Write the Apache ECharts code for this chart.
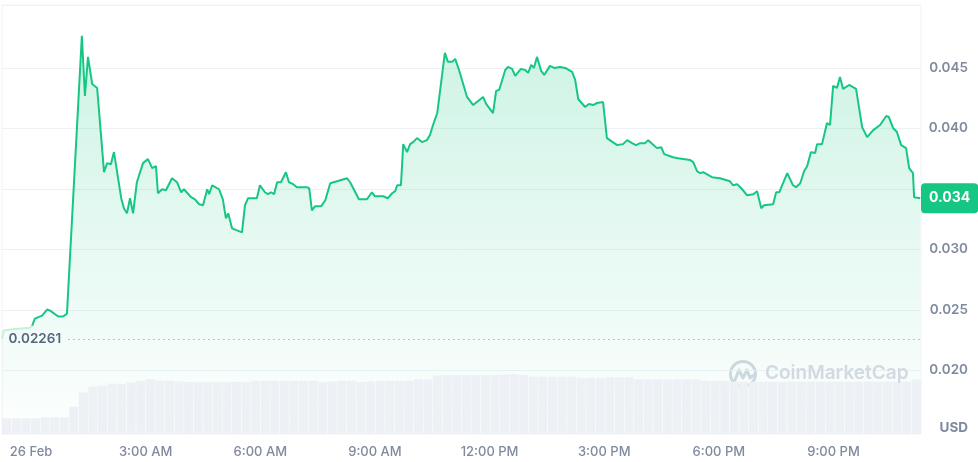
<!DOCTYPE html>
<html><head><meta charset="utf-8">
<script src="https://cdn.jsdelivr.net/npm/echarts@6/dist/echarts.min.js"></script>
<style>html,body{margin:0;padding:0;background:#fff}#c{width:978px;height:462px}</style>
</head><body><div id="c"></div>
<script>
// time in hours relative to 26 Feb 00:00
const timeHours = [-0.76,-0.72,-0.42,-0.03,0.03,0.10,0.29,0.42,0.50,0.71,0.84,0.94,0.99,1.33,1.41,1.49,1.60,1.73,1.91,1.99,
2.09,2.17,2.36,2.43,2.51,2.59,2.67,2.77,2.93,3.06,3.17,3.27,3.32,3.43,3.53,3.69,3.82,3.93,4.00,4.19,
4.29,4.40,4.50,4.61,4.66,4.74,4.92,5.02,5.10,5.16,5.26,5.39,5.52,5.60,5.68,5.91,5.99,6.12,6.20,6.28,
6.36,6.44,6.54,6.67,6.75,6.86,6.96,7.22,7.28,7.35,7.43,7.59,7.70,7.83,8.27,8.35,8.58,8.79,8.92,9.00,
9.21,9.34,9.45,9.53,9.58,9.68,9.74,9.84,9.92,10.00,10.10,10.23,10.36,10.44,10.52,10.63,10.83,10.91,11.02,11.10,
11.20,11.41,11.57,11.70,11.83,11.91,12.09,12.17,12.25,12.41,12.48,12.59,12.67,12.82,12.93,13.01,13.09,13.16,13.24,13.35,
13.43,13.58,13.69,13.84,13.98,14.16,14.24,14.32,14.50,14.60,14.71,14.81,14.97,15.02,15.07,15.34,15.49,15.60,15.73,15.83,
15.94,16.07,16.15,16.38,16.49,16.57,16.80,16.93,17.25,17.33,17.43,17.51,17.59,17.82,18.03,18.29,18.37,18.48,18.61,18.74,
18.90,19.00,19.11,19.18,19.42,19.50,19.58,19.68,19.79,19.84,19.94,20.02,20.13,20.23,20.31,20.41,20.52,20.57,20.70,20.83,
20.91,20.99,21.09,21.17,21.25,21.41,21.59,21.75,21.88,22.04,22.22,22.38,22.45,22.56,22.66,22.77,22.90,22.98,23.08,23.11,23.27];
const prices = [0.02261,0.02329,0.02341,0.02353,0.02370,0.02428,0.02453,0.02503,0.02494,0.02445,0.02445,0.02469,0.02478,0.04765,0.04268,0.04591,0.04367,0.04334,0.03638,0.03713,
0.03704,0.03804,0.03423,0.03340,0.03298,0.03423,0.03298,0.03555,0.03713,0.03746,0.03671,0.03688,0.03464,0.03497,0.03489,0.03588,0.03555,0.03472,0.03497,0.03431,
0.03414,0.03373,0.03365,0.03497,0.03456,0.03530,0.03497,0.03414,0.03257,0.03298,0.03174,0.03157,0.03141,0.03365,0.03423,0.03423,0.03530,0.03472,0.03456,0.03472,
0.03456,0.03555,0.03555,0.03638,0.03555,0.03539,0.03514,0.03514,0.03505,0.03323,0.03356,0.03356,0.03406,0.03547,0.03588,0.03555,0.03414,0.03414,0.03472,0.03439,
0.03439,0.03423,0.03464,0.03481,0.03530,0.03530,0.03870,0.03804,0.03870,0.03887,0.03920,0.03887,0.03903,0.03945,0.04028,0.04127,0.04624,0.04550,0.04550,0.04575,
0.04483,0.04260,0.04193,0.04226,0.04260,0.04202,0.04127,0.04309,0.04318,0.04483,0.04508,0.04492,0.04434,0.04492,0.04483,0.04459,0.04525,0.04500,0.04591,0.04475,
0.04442,0.04517,0.04500,0.04508,0.04500,0.04467,0.04401,0.04243,0.04177,0.04202,0.04193,0.04210,0.04218,0.04210,0.03920,0.03862,0.03870,0.03903,0.03878,0.03862,
0.03878,0.03878,0.03903,0.03837,0.03845,0.03787,0.03762,0.03754,0.03738,0.03721,0.03646,0.03630,0.03638,0.03597,0.03588,0.03563,0.03530,0.03539,0.03497,0.03447,
0.03456,0.03481,0.03340,0.03365,0.03373,0.03472,0.03472,0.03547,0.03630,0.03638,0.03530,0.03514,0.03547,0.03646,0.03688,0.03804,0.03796,0.03870,0.03870,0.04044,
0.04028,0.04351,0.04334,0.04425,0.04326,0.04359,0.04326,0.04011,0.03928,0.03986,0.04028,0.04102,0.04094,0.04003,0.03970,0.03862,0.03837,0.03671,0.03630,0.03431,0.03423];
const openPrice = 0.02261;
const paleEndIndex = 4; // first segment drawn in pale colour
// volume, 15-minute bars (relative units)
const volumes = [73,73,73,73,78,78,78,127,194,221,226,235,233,240,247,255,249,248,245,
242,242,242,242,242,242,242,248,248,248,248,248,248,248,
242,245,248,248,242,245,248,248,248,248,255,255,273,
274,274,274,274,274,275,277,279,275,267,267,267,267,267,
262,262,262,264,264,264,255,255,255,255,255,255,255,248,248,248,
244,244,244,244,244,244,244,244,244,244,244,244,244,244,244,244,244,244,244,255];
const xTickHours = [0,3,6,9,12,15,18,21];
const xTickLabels = ['26 Feb','3:00 AM','6:00 AM','9:00 AM','12:00 PM','3:00 PM','6:00 PM','9:00 PM'];
const yGridValues = [0.020,0.025,0.030,0.035,0.040,0.045,0.0502];
const yLabelValues = [0.020,0.025,0.030,0.040,0.045];

const X_MIN = -0.76, X_MAX = 23.29, Y_MIN = 0.01474, Y_MAX = 0.0502;
const GREEN = '#16c784';
const pts = timeHours.map((h, i) => [h, prices[i]]);
const last = prices[prices.length - 1];

const chart = echarts.init(document.getElementById('c'), null, {renderer: 'canvas'});
chart.setOption({
  animation: false,
  textStyle: {fontFamily: 'Inter'},
  grid: {left: 2, right: 57, top: 5, bottom: 28, show: true, borderColor: '#eff2f5', borderWidth: 1},
  xAxis: [{
    type: 'value', min: X_MIN, max: X_MAX,
    axisLine: {show: false}, axisTick: {show: false}, splitLine: {show: false},
    axisLabel: {customValues: xTickHours, margin: 12, color: '#808a9d', fontSize: 13, fontWeight: 500,
      formatter: v => xTickLabels[xTickHours.indexOf(Math.round(v))] || ''}
  }, {
    type: 'category', show: false, data: volumes.map((_, i) => i), boundaryGap: true
  }],
  yAxis: [{
    type: 'value', position: 'right', min: Y_MIN, max: Y_MAX,
    axisLine: {show: false},
    axisTick: {show: false, customValues: yGridValues},
    splitLine: {show: true, lineStyle: {color: '#eff2f5', width: 1}},
    axisLabel: {customValues: yLabelValues, align: 'right', margin: 47, color: '#808a9d',
      fontSize: 13.5, fontWeight: 600, formatter: v => v.toFixed(3)}
  }, {
    type: 'value', show: false, min: 0, max: 2000, splitLine: {show: false}
  }],
  series: [
    {
      type: 'line', data: pts, symbol: 'none', lineStyle: {width: 0},
      areaStyle: {origin: 'start', color: new echarts.graphic.LinearGradient(0, 0, 0, 1, [
        {offset: 0, color: 'rgba(22,199,132,0.30)'}, {offset: 1, color: 'rgba(22,199,132,0.01)'}])},
      silent: true, z: 1
    },
    {
      type: 'bar', xAxisIndex: 1, yAxisIndex: 1, data: volumes, barCategoryGap: '6%',
      itemStyle: {color: '#edf0f4'}, silent: true, z: 2
    },
    {
      type: 'line', data: pts.slice(0, paleEndIndex + 1), symbol: 'none',
      lineStyle: {color: '#c6efdc', width: 2}, silent: true, z: 3
    },
    {
      type: 'line', data: pts.slice(paleEndIndex), symbol: 'none',
      lineStyle: {color: GREEN, width: 2}, silent: true, z: 4,
      markLine: {
        silent: true, symbol: 'none', animation: false, precision: 6,
        data: [
          [{coord: [X_MIN + 1.73, openPrice]}, {coord: [X_MAX, openPrice]}],
          {yAxis: last, lineStyle: {color: 'rgba(0,0,0,0)', width: 0, type: 'solid'},
           label: {show: true, position: 'end', distance: 0, formatter: () => last.toFixed(3),
             backgroundColor: GREEN, color: '#fff', fontSize: 14, fontWeight: 700, fontFamily: 'Inter',
             padding: [8, 8, 8, 8], borderRadius: 4}}
        ],
        lineStyle: {color: '#a6b0c3', type: [1.5, 3.5], width: 1},
        label: {show: true, position: 'start', distance: 7, formatter: () => String(openPrice),
          color: '#58667e', fontSize: 13.5, fontWeight: 600, fontFamily: 'Inter'}
      }
    }
  ],
  graphic: [
    {type: 'text', right: 10, top: 421, z: 100,
     style: {text: 'USD', font: '700 13.5px Inter', fill: '#808a9d'}},
    {type: 'group', left: 728, top: 359, z: 100, silent: true, children: [
      {type: 'circle', shape: {cx: 14, cy: 14, r: 12.5}, style: {fill: 'none', stroke: '#d3d9e3', lineWidth: 3}},
      {type: 'polyline', shape: {points: [[6, 20], [10, 10], [14, 18], [18, 10], [21, 18], [25, 15]]},
       style: {stroke: '#d3d9e3', lineWidth: 3, fill: 'none', lineJoin: 'round', lineCap: 'round'}}
    ]},
    {type: 'text', left: 765, top: 364, z: 100, silent: true,
     style: {text: 'CoinMarketCap', font: '600 19px Inter', fill: '#d3d9e3'}}
  ]
});
</script></body></html>
